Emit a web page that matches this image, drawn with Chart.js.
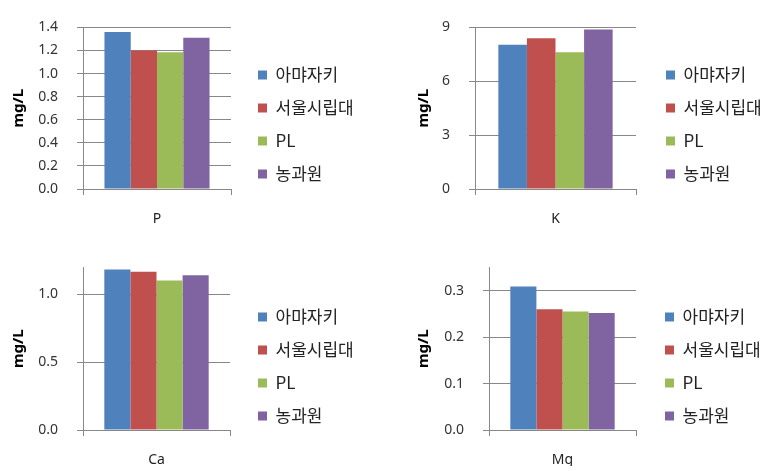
<!DOCTYPE html>
<html>
<head>
<meta charset="utf-8">
<script src="https://cdn.jsdelivr.net/npm/chart.js@4.4.0/dist/chart.umd.min.js"></script>
<style>
  body { margin: 0; background: #fff; }
  #wrap { position: relative; width: 771px; height: 471px; }
  .panel { position: absolute; }
</style>
</head>
<body>
<div id="wrap">
  <div class="panel" style="left:0;top:0"><canvas id="chartP" width="390" height="235"></canvas></div>
  <div class="panel" style="left:390px;top:0"><canvas id="chartK" width="381" height="235"></canvas></div>
  <div class="panel" style="left:0;top:240px"><canvas id="chartCa" width="390" height="231"></canvas></div>
  <div class="panel" style="left:390px;top:240px"><canvas id="chartMg" width="381" height="231"></canvas></div>
</div>
<script>
// data
const sites = ["아먀자키", "서울시립대", "PL", "농과원"];
const pValues = [1.36, 1.2, 1.185, 1.31];
const kValues = [8.04, 8.4, 7.62, 8.89];
const caValues = [1.185, 1.167, 1.103, 1.142];
const mgValues = [0.309, 0.26, 0.255, 0.252];
const yMaxes = { P: 1.4, K: 9, Ca: 1.2, Mg: 0.35 };
const ySteps = { P: 0.2, K: 3, Ca: 0.5, Mg: 0.1 };
const yDecimals = { P: 1, K: 0, Ca: 1, Mg: 1 };

const colors = ["#4F81BD", "#C0504D", "#9BBB59", "#8064A2"];
const latin = '"Noto Sans", "Noto Sans CJK KR", sans-serif';
const korean = '"Noto Sans CJK KR", sans-serif';
const legendSize = 17;
const legendPad = 16;
const legendBox = 9;
const gridColor = "#888888";

Chart.defaults.font.family = latin;
Chart.defaults.color = "#333";

// width of the widest legend text, same way the legend measures it
const mctx = document.createElement("canvas").getContext("2d");
mctx.font = "normal " + legendSize + "px " + korean;
const legendTextW = Math.max(...sites.map((s) => mctx.measureText(s).width));
const legendW = legendPad + legendBox + legendSize / 2 + legendTextW + 10;

function makePanel(id, name, values, box) {
  const ctx = document.getElementById(id).getContext("2d");
  const W = ctx.canvas.width;
  const H = ctx.canvas.height;
  const legendLeft = box.boxX - legendPad;
  new Chart(ctx, {
    type: "bar",
    data: {
      labels: [name],
      datasets: sites.map((s, i) => ({
        label: s,
        data: [values[i]],
        backgroundColor: colors[i],
        borderWidth: 0,
        yAxisID: "y",
        barPercentage: 1,
        categoryPercentage: 0.71,
      })),
    },
    options: {
      responsive: false,
      animation: false,
      devicePixelRatio: 1,
      layout: {
        padding: {
          left: 0,
          top: box.top,
          right: W - legendLeft - legendW,
          bottom: H - box.legendBottom,
        },
      },
      plugins: {
        tooltip: { enabled: false },
        legend: {
          position: "right",
          maxWidth: 300,
          labels: {
            boxWidth: legendBox,
            boxHeight: legendBox,
            padding: legendPad,
            color: "#222",
            font: { family: korean, size: legendSize },
          },
        },
      },
      scales: {
        x: {
          grid: {
            offset: true,
            drawOnChartArea: false,
            drawTicks: true,
            tickLength: 6,
            color: gridColor,
          },
          border: { color: gridColor },
          ticks: { padding: 16, color: "#222", font: { size: 14 } },
          afterFit: (s) => {
            s.height = box.legendBottom - box.bottom;
          },
        },
        y: {
          min: 0,
          max: yMaxes[name],
          grid: { color: gridColor, tickLength: 6 },
          border: { color: gridColor },
          ticks: {
            stepSize: ySteps[name],
            includeBounds: false,
            padding: 19,
            color: "#333",
            font: { size: 14 },
            callback: (v) => Number(v).toFixed(yDecimals[name]),
          },
          title: {
            display: true,
            text: "mg/L",
            color: "#000",
            font: { size: 15, weight: "bold" },
            padding: { top: box.titlePad, bottom: 0 },
          },
          afterFit: (s) => {
            s.width = box.left;
          },
        },
        gap: {
          type: "linear",
          position: "right",
          grid: { display: false },
          border: { display: false },
          ticks: { display: false },
          afterFit: (s) => {
            s.width = legendLeft - box.right;
          },
        },
      },
    },
  });
}

makePanel("chartP", "P", pValues, { left: 83, right: 231, top: 25, bottom: 189, legendBottom: 224, titlePad: 10, boxX: 258 });
makePanel("chartK", "K", kValues, { left: 85, right: 246, top: 24, bottom: 189, legendBottom: 225, titlePad: 24.5, boxX: 276 });
makePanel("chartCa", "Ca", caValues, { left: 83, right: 230, top: 27, bottom: 190, legendBottom: 226, titlePad: 10, boxX: 258 });
makePanel("chartMg", "Mg", mgValues, { left: 99, right: 246, top: 27, bottom: 190, legendBottom: 226, titlePad: 24.5, boxX: 275 });
</script>
</body>
</html>
